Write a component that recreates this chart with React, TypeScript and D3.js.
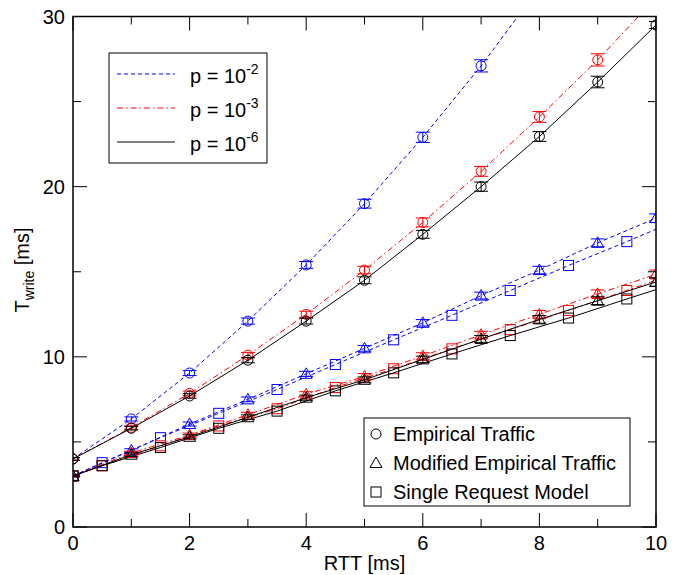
import * as d3 from 'd3';

// --- Data ---
const xInt = [0, 1, 2, 3, 4, 5, 6, 7, 8, 9, 10];
const xSquare = [0, 0.5, 1.5, 2.5, 3.5, 4.5, 5.5, 6.5, 7.5, 8.5, 9.5, 10];

// Empirical traffic (circles)
const circBlue = [4.0, 6.35, 9.05, 12.1, 15.4, 19.0, 22.9, 27.1, 31.7];
const circBlueErr = [0.08, 0.12, 0.15, 0.18, 0.2, 0.26, 0.3, 0.36, 0.4];
const circRed = [4.0, 5.85, 7.85, 10.1, 12.5, 15.1, 17.9, 20.9, 24.1, 27.45, 31.1];
const circRedErr = [0.08, 0.1, 0.14, 0.16, 0.18, 0.22, 0.26, 0.29, 0.32, 0.36, 0.4];
const circBlack = [4.0, 5.8, 7.7, 9.8, 12.1, 14.5, 17.2, 20.0, 22.95, 26.15, 29.5];
const circBlackErr = [0.08, 0.1, 0.13, 0.15, 0.17, 0.2, 0.23, 0.27, 0.29, 0.34, 0.2];

// Modified empirical traffic (triangles)
const triBlue = [3.0, 4.5, 6.05, 7.5, 9.0, 10.5, 12.0, 13.6, 15.1, 16.7, 18.15];
const triRed = [3.0, 4.35, 5.4, 6.6, 7.8, 8.85, 10.05, 11.3, 12.5, 13.7, 14.85];
const triBlack = [3.0, 4.25, 5.3, 6.45, 7.6, 8.65, 9.85, 11.05, 12.2, 13.3, 14.4];
const triErr = [0.05, 0.1, 0.12, 0.14, 0.15, 0.17, 0.19, 0.2, 0.22, 0.23, 0.25];

// Single request model (squares)
const sqBlue = [3.0, 3.78, 5.25, 6.68, 8.08, 9.55, 11.0, 12.44, 13.9, 15.37, 16.77, 17.5];
const sqRed = [3.0, 3.6, 4.77, 5.94, 6.95, 8.2, 9.3, 10.47, 11.6, 12.73, 13.9, 14.5];
const sqBlack = [3.0, 3.6, 4.67, 5.8, 6.81, 8.0, 9.06, 10.17, 11.25, 12.28, 13.4, 13.95];

const xMajor = [0, 2, 4, 6, 8, 10];
const xMinor = [1, 3, 5, 7, 9];
const yMajor = [0, 10, 20, 30];
const yMinor = [5, 15, 25];

const legendP = [
  { exp: '-2', color: '#0000ff', dash: '4,3' },
  { exp: '-3', color: '#ff0000', dash: '6,3,1.5,3' },
  { exp: '-6', color: '#000000', dash: 'none' },
];
const legendMarkers = ['Empirical Traffic', 'Modified Empirical Traffic', 'Single Request Model'];

const W = 685;
const H = 575;
const M = { left: 73, top: 16.5, right: 29, bottom: 48 };
const FONT = '"Liberation Sans", Arial, sans-serif';

const x = d3.scaleLinear().domain([0, 10]).range([M.left, W - M.right]);
const y = d3.scaleLinear().domain([0, 30]).range([H - M.bottom, M.top]);

type Pt = { x: number; y: number; e?: number };

const zip = (xs: number[], ys: number[], es?: number[]): Pt[] =>
  ys.map((v, i) => ({ x: xs[i], y: v, e: es ? es[i] : undefined }));

const line = d3.line<Pt>().x(d => x(d.x)).y(d => y(d.y));

const triPath = (cx: number, cy: number) =>
  `M${cx},${cy - 6}L${cx + 6},${cy + 4.5}L${cx - 6},${cy + 4.5}Z`;

const Marker = ({ kind, cx, cy, color }: { kind: string; cx: number; cy: number; color: string }) => {
  if (kind === 'circle') return <circle cx={cx} cy={cy} r={5} fill="none" stroke={color} strokeWidth={1} />;
  if (kind === 'tri') return <path d={triPath(cx, cy)} fill="none" stroke={color} strokeWidth={1} />;
  return <rect x={cx - 5} y={cy - 5} width={10} height={10} fill="none" stroke={color} strokeWidth={1} />;
};

const Series = ({ pts, color, dash, kind, skipLast }: { pts: Pt[]; color: string; dash: string; kind: string; skipLast?: boolean }) => (
  <g>
    <path d={line(pts) || ''} fill="none" stroke={color} strokeWidth={1} strokeDasharray={dash} />
    {pts.map((p, i) => {
      if (skipLast && i === pts.length - 1) return null;
      const cx = x(p.x);
      const cy = y(p.y);
      return (
        <g key={i}>
          {p.e !== undefined && (
            <g stroke={color} strokeWidth={1}>
              <line x1={cx} x2={cx} y1={y(p.y - p.e)} y2={y(p.y + p.e)} />
              <line x1={cx - 7} x2={cx + 7} y1={y(p.y - p.e)} y2={y(p.y - p.e)} />
              <line x1={cx - 7} x2={cx + 7} y1={y(p.y + p.e)} y2={y(p.y + p.e)} />
            </g>
          )}
          <Marker kind={kind} cx={cx} cy={cy} color={color} />
        </g>
      );
    })}
  </g>
);

export default function App() {
  const x0 = x(0), x1 = x(10), y0 = y(0), y1 = y(30);
  const blue = '#0000ff', red = '#ff0000', black = '#000000';
  const dBlue = '4,3', dRed = '6,3,1.5,3', dBlack = 'none';

  return (
    <svg width={W} height={H} style={{ position: 'absolute', left: 0, top: 0, background: '#fff' }} fontFamily={FONT}>
      <defs>
        <clipPath id="plot">
          <rect x={x0} y={y1} width={x1 - x0} height={y0 - y1} />
        </clipPath>
      </defs>

      <g clipPath="url(#plot)">
        {/* squares */}
        <Series pts={zip(xSquare, sqBlue)} color={blue} dash={dBlue} kind="sq" skipLast />
        <Series pts={zip(xSquare, sqRed)} color={red} dash={dRed} kind="sq" skipLast />
        <Series pts={zip(xSquare, sqBlack)} color={black} dash={dBlack} kind="sq" skipLast />
        {/* triangles */}
        <Series pts={zip(xInt, triBlue, triErr)} color={blue} dash={dBlue} kind="tri" />
        <Series pts={zip(xInt, triRed, triErr)} color={red} dash={dRed} kind="tri" />
        <Series pts={zip(xInt, triBlack, triErr)} color={black} dash={dBlack} kind="tri" />
        {/* circles */}
        <Series pts={zip(xInt, circBlue, circBlueErr)} color={blue} dash={dBlue} kind="circle" />
        <Series pts={zip(xInt, circRed, circRedErr)} color={red} dash={dRed} kind="circle" />
        <Series pts={zip(xInt, circBlack, circBlackErr)} color={black} dash={dBlack} kind="circle" />
      </g>

      {/* ticks */}
      <g stroke="#000" strokeWidth={1}>
        {xMajor.map(v => (
          <g key={'xM' + v}>
            <line x1={x(v)} x2={x(v)} y1={y0} y2={y0 - 14} />
            <line x1={x(v)} x2={x(v)} y1={y1} y2={y1 + 14} />
          </g>
        ))}
        {xMinor.map(v => (
          <g key={'xm' + v}>
            <line x1={x(v)} x2={x(v)} y1={y0} y2={y0 - 8} />
            <line x1={x(v)} x2={x(v)} y1={y1} y2={y1 + 8} />
          </g>
        ))}
        {yMajor.map(v => (
          <g key={'yM' + v}>
            <line x1={x0} x2={x0 + 14} y1={y(v)} y2={y(v)} />
            <line x1={x1} x2={x1 - 14} y1={y(v)} y2={y(v)} />
          </g>
        ))}
        {yMinor.map(v => (
          <g key={'ym' + v}>
            <line x1={x0} x2={x0 + 8} y1={y(v)} y2={y(v)} />
            <line x1={x1} x2={x1 - 8} y1={y(v)} y2={y(v)} />
          </g>
        ))}
      </g>

      {/* frame */}
      <rect x={x0} y={y1} width={x1 - x0} height={y0 - y1} fill="none" stroke="#000" strokeWidth={1.5} />

      {/* tick labels */}
      <g fontSize={20} fill="#000">
        {xMajor.map(v => (
          <text key={'xl' + v} x={x(v)} y={y0 + 23} textAnchor="middle">{v}</text>
        ))}
        {yMajor.map(v => (
          <text key={'yl' + v} x={x0 - 8} y={y(v) + 7} textAnchor="end">{v}</text>
        ))}
      </g>

      {/* axis titles */}
      <text x={(x0 + x1) / 2} y={570} fontSize={20} textAnchor="middle">RTT [ms]</text>
      <text transform="translate(29,270) rotate(-90)" fontSize={20} textAnchor="middle">
        T<tspan fontSize={14} dy={5}>write</tspan><tspan dy={-5}> [ms]</tspan>
      </text>

      {/* legend: p values */}
      <rect x={109} y={53} width={158} height={110} fill="#fff" stroke="#000" strokeWidth={1} />
      {legendP.map((d, i) => {
        const ly = 74 + i * 34;
        return (
          <g key={d.exp}>
            <line x1={117} x2={175} y1={ly} y2={ly} stroke={d.color} strokeWidth={1} strokeDasharray={d.dash} />
            <text x={190} y={ly + 9} fontSize={20}>
              p = 10<tspan fontSize={14} dy={-9}>{d.exp}</tspan>
            </text>
          </g>
        );
      })}

      {/* legend: marker types */}
      <rect x={364} y={418} width={266} height={88} fill="#fff" stroke="#000" strokeWidth={1} />
      {legendMarkers.map((name, i) => {
        const ly = 434 + i * 29;
        const kind = i === 0 ? 'circle' : i === 1 ? 'tri' : 'sq';
        return (
          <g key={name}>
            <Marker kind={kind} cx={376} cy={ly} color="#000" />
            <text x={393} y={ly + 7} fontSize={20}>{name}</text>
          </g>
        );
      })}
    </svg>
  );
}
